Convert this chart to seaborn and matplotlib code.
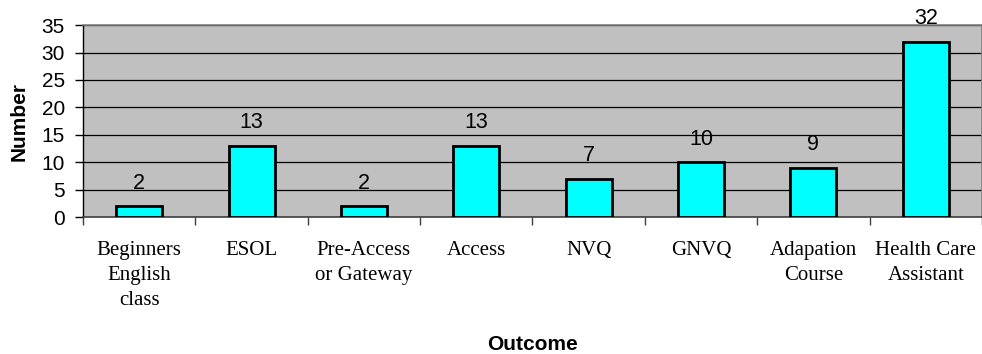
import matplotlib
matplotlib.use("Agg")
import matplotlib.pyplot as plt
import seaborn as sns
import pandas as pd
from matplotlib.ticker import FixedLocator

categories = ["Beginners\nEnglish\nclass", "ESOL", "Pre-Access\nor Gateway", "Access",
              "NVQ", "GNVQ", "Adapation\nCourse", "Health Care\nAssistant"]
counts = [2, 13, 2, 13, 7, 10, 9, 32]
y_ticks = [0, 5, 10, 15, 20, 25, 30, 35]

df = pd.DataFrame({"Outcome": categories, "Number": counts})

sns.set_theme(style="white")
plt.rcParams["font.family"] = ["Liberation Sans", "DejaVu Sans"]
plt.rcParams["text.color"] = "black"

fig = plt.figure(figsize=(9.82, 3.54), dpi=100)
ax = fig.add_axes([0.0845, 0.387, 0.9155, 0.542])
ax.set_facecolor("#C0C0C0")

sns.barplot(data=df, x="Outcome", y="Number", color="#00FFFF", saturation=1,
            edgecolor="black", linewidth=2.0, width=0.41, ax=ax, zorder=3)

ax.set_xlim(-0.5, len(categories) - 0.5)
ax.set_ylim(0, 35)
ax.set_yticks(y_ticks)
ax.yaxis.grid(True, color="black", linewidth=0.9)
ax.set_axisbelow(True)

# value labels above each bar
for i, v in enumerate(counts):
    ax.annotate(str(v), (i, v), xytext=(0, 9), textcoords="offset points",
                ha="center", va="bottom", fontsize=15.5, color="black",
                annotation_clip=False)

# category labels in serif, tick marks at category boundaries
ax.set_xticks(range(len(categories)))
ax.set_xticklabels(categories, family=["Liberation Serif", "DejaVu Serif"],
                   fontsize=15, linespacing=1.45)
ax.tick_params(axis="x", which="major", length=0, pad=17, labelcolor="black")
ax.xaxis.set_minor_locator(FixedLocator([i + 0.5 for i in range(-1, len(categories))]))
ax.tick_params(axis="x", which="minor", bottom=True, length=6, width=1, color="#404040")
ax.tick_params(axis="y", which="major", left=True, length=6, width=1, color="black",
               labelsize=15, pad=7, labelcolor="black")

ax.set_xlabel("Outcome", fontsize=15, fontweight="bold", labelpad=18, color="black")
ax.set_ylabel("Number", fontsize=15, fontweight="bold", labelpad=9, color="black")

for side in ["top", "right"]:
    ax.spines[side].set_color("#808080")
    ax.spines[side].set_linewidth(1.2)
ax.spines["left"].set_color("black")
ax.spines["bottom"].set_color("#404040")
ax.spines["left"].set_linewidth(1)
ax.spines["bottom"].set_linewidth(1.2)

fig.savefig("out.png", dpi=100)
